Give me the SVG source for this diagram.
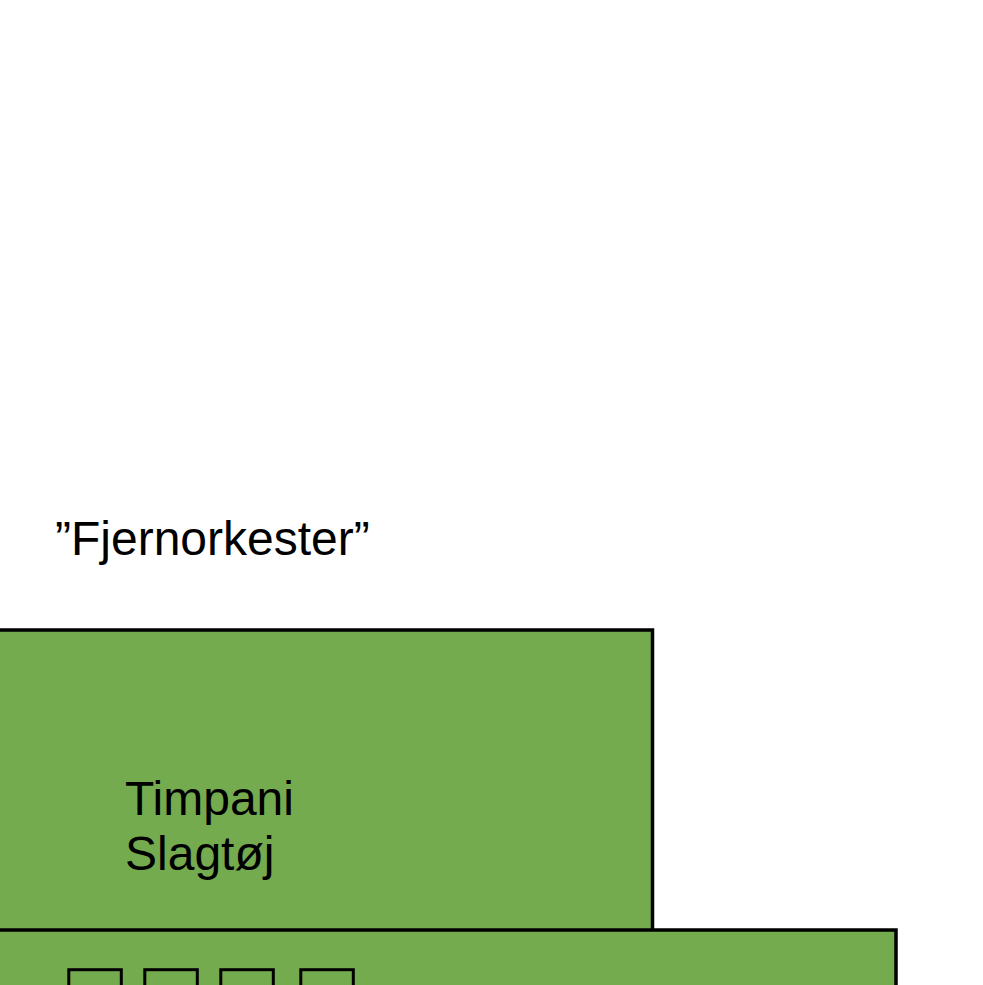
<svg xmlns="http://www.w3.org/2000/svg" width="983" height="985" viewBox="0 0 983 985">
<style>
.blk{fill:#75AB4F;stroke:#000;stroke-width:3.5}
.sq{fill:none;stroke:#000;stroke-width:3}
.t{font-family:"Liberation Sans",Arial,Helvetica,sans-serif;font-size:48px;fill:#000}
</style>
<rect width="983" height="985" fill="#fff"/>
<g id="fjernorkester-label">
<text class="t" x="55" y="555">”Fjernorkester”</text>
</g>
<g id="timpani-block">
<rect class="blk" x="-5" y="630" width="657.5" height="305"/>
<text class="t" x="125" y="815">Timpani</text>
<text class="t" x="125" y="870">Slagtøj</text>
</g>
<g id="lower-block">
<rect class="blk" x="-5" y="930" width="901" height="80"/>
<rect class="sq" x="68.8" y="969.7" width="52.5" height="40"/>
<rect class="sq" x="144.8" y="969.7" width="52.5" height="40"/>
<rect class="sq" x="220.8" y="969.7" width="52.5" height="40"/>
<rect class="sq" x="300.8" y="969.7" width="52.5" height="40"/>
</g>
<g id="connectors"></g>
</svg>
